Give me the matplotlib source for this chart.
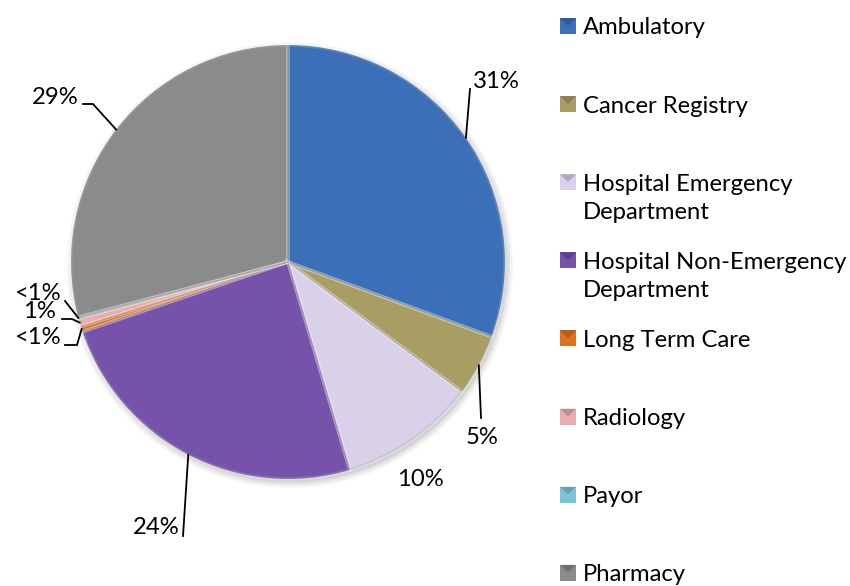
import numpy as np
import matplotlib
matplotlib.use("Agg")
import matplotlib.pyplot as plt
from matplotlib.patches import Rectangle, Circle, Wedge

# ---------------- data ----------------
categories = ["Ambulatory", "Cancer Registry", "Hospital Emergency\nDepartment",
              "Hospital Non-Emergency\nDepartment", "Long Term Care", "Radiology",
              "Payor", "Pharmacy"]
values = [30.6, 4.6, 10.2, 24.4, 0.4, 0.6, 0.1, 29.1]
pct_labels = ["31%", "5%", "10%", "24%", "<1%", "1%", "<1%", "29%"]
colors = ["#3B70B8", "#A89D62", "#D9D0EA", "#7652AB", "#E0701F", "#E8AEAE", "#7CC3DA", "#8B8B8B"]

# ---------------- layout ----------------
W, H = 850, 586
FONT = "Lato"
FS = 17.2
fig = plt.figure(figsize=(W / 100, H / 100), dpi=100)
ax = fig.add_axes([0, 0, 1, 1])

def fy(y):
    return H - y

cx, cy, R = 288, 262, 217

# soft drop shadow
for i, a in enumerate([0.03, 0.03, 0.03, 0.04, 0.05]):
    ax.add_patch(Circle((cx + 2, fy(cy + 3)), R + 6 - i * 1.5, color="black", alpha=a, lw=0, zorder=0))

wedges, _ = ax.pie(values, colors=colors, startangle=90, counterclock=False,
                   center=(cx, fy(cy)), radius=R,
                   wedgeprops=dict(linewidth=0))
# bevel highlights
for w, c in zip(wedges, colors):
    ax.add_patch(Wedge(w.center, w.r, w.theta1, w.theta2, fill=False,
                       edgecolor="white", alpha=0.25, lw=2.5, zorder=3))
    ax.add_patch(Wedge(w.center, w.r - 1, w.theta1, w.theta2, fill=False,
                       edgecolor="black", alpha=0.12, lw=1.0, zorder=3))

ax.set_xlim(0, W)
ax.set_ylim(0, H)
ax.set_aspect("equal")
ax.axis("off")

# mid angles (clockwise from top, in degrees)
cum = np.cumsum([0] + values)
total = cum[-1]
mid = [(cum[i] + cum[i + 1]) / 2 / total * 360 for i in range(len(values))]

def rim(i, r=R):
    a = np.deg2rad(mid[i])
    return cx + r * np.sin(a), cy - r * np.cos(a)

# label layout: text position (x, y, ha) and leader path (points after the rim point)
label_layout = [
    dict(t=(473, 82, "left"), path=[(470, 89)]),
    dict(t=(482, 437, "center"), path=[(481, 418)]),
    dict(t=(420, 480, "center"), path=None),
    dict(t=(180, 528, "right"), path=[(183, 536)]),
    dict(t=(61, 338, "right"), path=[(77, 345), (65, 345)]),
    dict(t=(56, 312, "right"), path=[(72, 319), (62, 319)]),
    dict(t=(61, 293, "right"), path=[(65, 301)]),
    dict(t=(79, 97, "right"), path=[(93, 104), (83, 104)]),
]

for i, (lab, lay) in enumerate(zip(pct_labels, label_layout)):
    x, y, ha = lay["t"]
    ax.text(x, fy(y), lab, ha=ha, va="center", fontsize=FS, family=FONT, color="black")
    if lay["path"]:
        pts = [rim(i)] + lay["path"]
        ax.plot([p[0] for p in pts], [fy(p[1]) for p in pts], color="black", lw=1.3,
                solid_joinstyle="miter", zorder=4)

# ---------------- legend ----------------
leg_x, leg_y0, leg_dy, box = 560, 26, 78.1, 16
for i, (cat, c) in enumerate(zip(categories, colors)):
    yy = leg_y0 + i * leg_dy
    ax.add_patch(Rectangle((leg_x, fy(yy + box / 2)), box, box, facecolor=c,
                           edgecolor="none", zorder=5))
    ax.add_patch(plt.Polygon([(leg_x, fy(yy - box / 2)), (leg_x + box, fy(yy - box / 2)),
                              (leg_x + box / 2, fy(yy))], closed=True,
                             facecolor="black", alpha=0.18, lw=0, zorder=6))
    ax.text(leg_x + 23, fy(yy - 8.5), cat, ha="left", va="top", fontsize=FS,
            family=FONT, color="black", linespacing=1.42)

fig.savefig("out.png", dpi=100)
